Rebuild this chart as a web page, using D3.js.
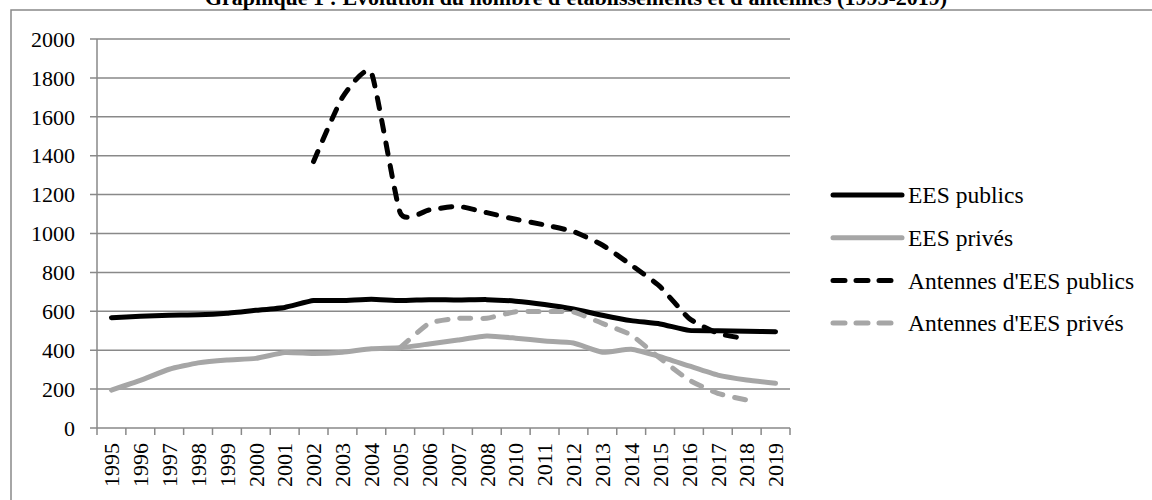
<!DOCTYPE html>
<html>
<head>
<meta charset="utf-8">
<script src="https://cdn.jsdelivr.net/npm/d3@7"></script>
<style>
  body { margin: 0; background: #fff; }
  svg text { font-family: "Liberation Serif", "DejaVu Serif", serif; }
</style>
</head>
<body>
<div id="chart"></div>
<script>
// data
var years = ["1995","1996","1997","1998","1999","2000","2001","2002","2003","2004","2005","2006",
    "2007","2008","2010","2011","2012","2013","2014","2015","2016","2017","2018","2019"];
var eesPublics = [567,575,580,582,590,605,620,655,655,662,655,660,658,660,652,635,612,580,552,535,502,500,497,495];
var eesPrives = [195,245,302,335,350,358,388,383,390,408,413,432,452,473,462,447,437,390,405,367,319,272,247,230];
var antPublics = [null,null,null,null,null,null,null,1370,1700,1827,1107,1121,1140,1107,1073,1044,1010,941,838,727,564,487,458,null];
var antPrives = [null,null,null,null,null,null,null,null,null,null,413,538,564,564,598,598,596,538,478,358,247,178,144,null];
var yTicks = [0,200,400,600,800,1000,1200,1400,1600,1800,2000];

var series = [
    {name: "EES publics", values: eesPublics, color: "#000000", dash: null},
    {name: "EES privés", values: eesPrives, color: "#a6a6a6", dash: null},
    {name: "Antennes d'EES publics", values: antPublics, color: "#000000", dash: "11,12"},
    {name: "Antennes d'EES privés", values: antPrives, color: "#a6a6a6", dash: "11,12"}
];

var width = 1152, height = 500;
var plot = {left: 97, right: 790, top: 39, bottom: 428};
var gridColor = "#898989";
var font = "'Liberation Serif', 'DejaVu Serif', serif";

var svg = d3.select("#chart").append("svg")
    .attr("width", width)
    .attr("height", height)
    .style("display", "block");

// outer frame
svg.append("rect")
    .attr("x", 11).attr("y", 10)
    .attr("width", 1200).attr("height", 600)
    .style("fill", "none")
    .style("stroke", gridColor)
    .style("stroke-width", 1.5);

svg.append("text")
    .attr("x", 576).attr("y", 5)
    .attr("text-anchor", "middle")
    .attr("font-family", font)
    .style("font-size", "22px")
    .style("font-weight", "bold")
    .text("Graphique 1 : Évolution du nombre d'établissements et d'antennes (1995-2019)");

var xscale = d3.scaleBand()
    .domain(years)
    .range([plot.left, plot.right]);

var yscale = d3.scaleLinear()
    .domain([0, 2000])
    .range([plot.bottom, plot.top]);

// gridlines
svg.append("g")
    .selectAll("line")
    .data(yTicks)
    .enter()
    .append("line")
    .attr("x1", plot.left - 7)
    .attr("x2", plot.right)
    .attr("y1", function(d){ return yscale(d); })
    .attr("y2", function(d){ return yscale(d); })
    .style("stroke", gridColor)
    .style("stroke-width", 1.5);

// y axis line
svg.append("line")
    .attr("x1", plot.left).attr("x2", plot.left)
    .attr("y1", plot.top).attr("y2", plot.bottom)
    .style("stroke", gridColor)
    .style("stroke-width", 1.5);

svg.append("g")
    .selectAll("text")
    .data(yTicks)
    .enter()
    .append("text")
    .attr("x", 75)
    .attr("y", function(d){ return yscale(d); })
    .attr("dy", "0.35em")
    .attr("text-anchor", "end")
    .attr("font-family", font)
    .style("font-size", "22px")
    .text(function(d){ return d; });

// x ticks at category boundaries
var bounds = years.map(function(d){ return xscale(d); }).concat([plot.right]);
svg.append("g")
    .selectAll("line")
    .data(bounds)
    .enter()
    .append("line")
    .attr("x1", function(d){ return d; })
    .attr("x2", function(d){ return d; })
    .attr("y1", plot.bottom)
    .attr("y2", plot.bottom + 7)
    .style("stroke", gridColor)
    .style("stroke-width", 1.5);

svg.append("g")
    .selectAll("text")
    .data(years)
    .enter()
    .append("text")
    .attr("transform", function(d){
        return "translate(" + (xscale(d) + xscale.bandwidth() / 2) + "," + (plot.bottom + 15) + ") rotate(-90)";
    })
    .attr("dy", "0.35em")
    .attr("text-anchor", "end")
    .attr("font-family", font)
    .style("font-size", "22px")
    .text(function(d){ return d; });

// lines
var line = d3.line()
    .defined(function(d){ return d != null; })
    .x(function(d, i){ return xscale(years[i]) + xscale.bandwidth() / 2; })
    .y(function(d){ return yscale(d); })
    .curve(d3.curveCardinal.tension(0.5));

svg.append("g")
    .selectAll("path")
    .data(series)
    .enter()
    .append("path")
    .attr("d", function(s){ return line(s.values); })
    .style("fill", "none")
    .style("stroke", function(s){ return s.color; })
    .style("stroke-width", 5)
    .style("stroke-linecap", "round")
    .style("stroke-linejoin", "round")
    .style("stroke-dasharray", function(s){ return s.dash; });

// legend
var legend = svg.append("g")
    .selectAll("g")
    .data(series)
    .enter()
    .append("g")
    .attr("transform", function(d, i){ return "translate(831," + (195 + i * 42.7) + ")"; });

legend.append("line")
    .attr("x1", 2).attr("x2", 71)
    .style("stroke", function(s){ return s.color; })
    .style("stroke-width", 5)
    .style("stroke-linecap", "round")
    .style("stroke-dasharray", function(s){ return s.dash ? "12,11" : null; });

legend.append("text")
    .attr("x", 77)
    .attr("dy", "0.35em")
    .attr("font-family", font)
    .style("font-size", "23.5px")
    .text(function(s){ return s.name; });
</script>
</body>
</html>
